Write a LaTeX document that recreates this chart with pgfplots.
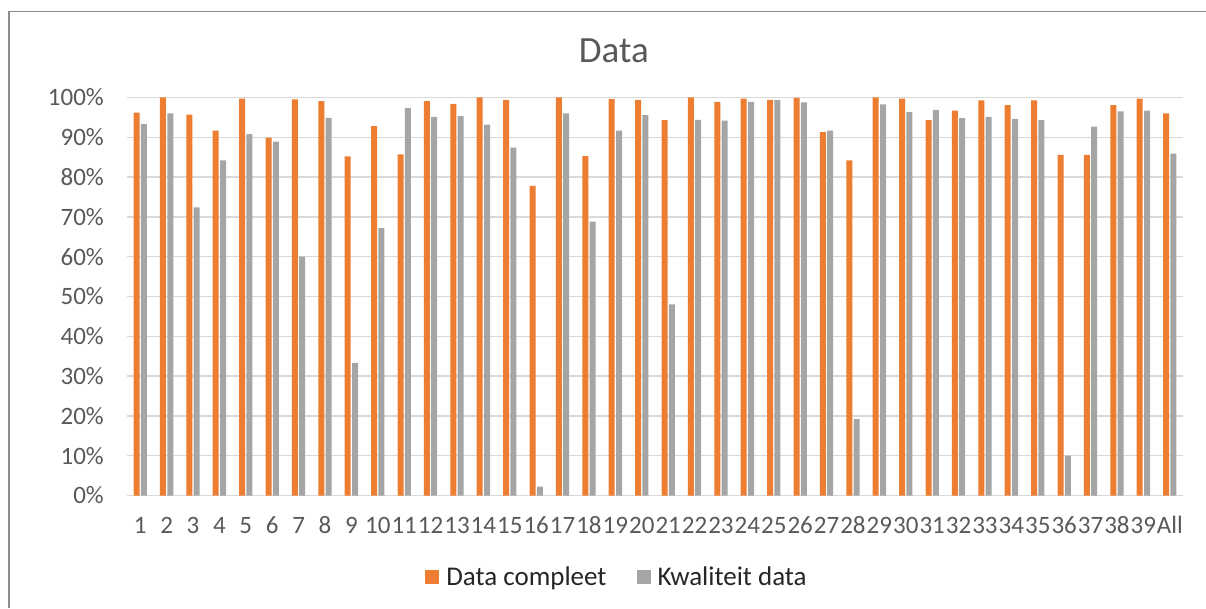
\documentclass[border=0pt]{standalone}
\usepackage{fontspec}
\setmainfont{Carlito}
\usepackage{pgfplots}
\pgfplotsset{compat=1.18}
\definecolor{cOrange}{HTML}{ED7D31}
\definecolor{cGray}{HTML}{A5A5A5}
\definecolor{cGrid}{HTML}{D9D9D9}
\definecolor{cText}{HTML}{595959}
\definecolor{cLeg}{HTML}{262626}
\begin{document}
\begin{tikzpicture}
\useasboundingbox (0pt,0pt) rectangle (1206pt,608pt);
\draw[color=black!45, line width=1.2pt] (9pt,0pt) -- (9pt,596.5pt) -- (1206pt,596.5pt);
\begin{axis}[
  at={(127pt,112.5pt)}, anchor=south west,
  scale only axis, width=1056pt, height=398pt,
  ybar=1.3pt, bar width=6pt,
  xmin=-0.5, xmax=39.5, ymin=0, ymax=100,
  xtick={0,...,39},
  xticklabels={1,2,3,4,5,6,7,8,9,10,11,12,13,14,15,16,17,18,19,20,21,22,23,24,25,26,27,28,29,30,31,32,33,34,35,36,37,38,39,All},
  ytick={0,10,...,100},
  yticklabel={\pgfmathprintnumber{\tick}\%},
  /pgf/number format/assume math mode=true,
  major tick length=0pt,
  axis line style={draw=none},
  ymajorgrids, grid style={color=cGrid, line width=1.5pt},
  tick label style={font=\fontsize{25}{29}\selectfont, text=cText},
  yticklabel style={anchor=east, inner sep=0pt, xshift=-23pt},
  xticklabel style={anchor=base, inner sep=0pt, yshift=-37.5pt},
  title={Data},
  title style={at={(0.461,1.103)}, anchor=center, inner sep=0pt, font=\fontsize{37}{42}\selectfont, text=cText},
  legend columns=2,
  legend style={draw=none, at={(0.464,-0.205)}, anchor=center, font=\fontsize{27}{31}\selectfont, text=cLeg,
    /tikz/every even column/.append style={column sep=28pt}},
  legend image code/.code={\fill[#1] (0pt,-7pt) rectangle (14pt,7pt); \path (19pt,0pt);},
]
\addplot[fill=cOrange, draw=none] coordinates {
(0,96.2) (1,100) (2,95.7) (3,91.7) (4,99.7) (5,89.9) (6,99.5) (7,99.1) (8,85.2) (9,92.8)
(10,85.7) (11,99.1) (12,98.4) (13,100) (14,99.4) (15,77.8) (16,100) (17,85.3) (18,99.6) (19,99.4)
(20,94.3) (21,100) (22,98.9) (23,99.7) (24,99.4) (25,99.9) (26,91.3) (27,84.2) (28,100) (29,99.7)
(30,94.3) (31,96.7) (32,99.3) (33,98.1) (34,99.3) (35,85.6) (36,85.6) (37,98.1) (38,99.7) (39,96.0)};
\addplot[fill=cGray, draw=none] coordinates {
(0,93.4) (1,96.0) (2,72.4) (3,84.2) (4,90.8) (5,88.9) (6,60.0) (7,94.9) (8,33.3) (9,67.2)
(10,97.4) (11,95.1) (12,95.3) (13,93.2) (14,87.4) (15,2.2) (16,96.0) (17,68.8) (18,91.7) (19,95.6)
(20,48.0) (21,94.4) (22,94.2) (23,98.9) (24,99.4) (25,98.8) (26,91.7) (27,19.2) (28,98.3) (29,96.3)
(30,96.9) (31,94.8) (32,95.1) (33,94.6) (34,94.3) (35,10.0) (36,92.7) (37,96.5) (38,96.7) (39,85.9)};
\legend{Data compleet, Kwaliteit data}
\end{axis}
\end{tikzpicture}
\end{document}
